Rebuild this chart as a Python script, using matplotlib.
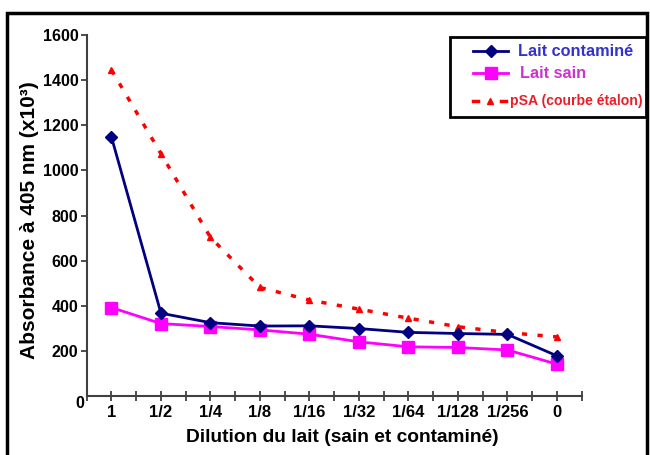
import matplotlib
matplotlib.use("Agg")
import matplotlib.pyplot as plt
from matplotlib.patches import Rectangle
from matplotlib.lines import Line2D

plt.rcParams['font.family'] = ['Liberation Sans', 'DejaVu Sans']
plt.rcParams['font.weight'] = 'bold'

categories = ["1", "1/2", "1/4", "1/8", "1/16", "1/32", "1/64", "1/128", "1/256", "0"]
lait_contamine = [1148, 367, 325, 310, 311, 299, 282, 277, 273, 178]
lait_sain = [392, 321, 308, 293, 274, 240, 218, 215, 204, 141]
psa = [1445, 1074, 703, 481, 425, 385, 345, 307, 281, 262]
y_ticks = [200, 400, 600, 800, 1000, 1200, 1400, 1600]
series_names = ['Lait contaminé', 'Lait sain', 'pSA (courbe étalon)']

W, H = 650, 455
fig = plt.figure(figsize=(6.5, 4.55), dpi=100)
fig.patch.set_facecolor('white')


def fx(px):
    return px / W


def fy(py):
    return 1 - py / H


# outer black frame
fig.patches.append(Rectangle((fx(7), -0.02), 640 / W, fy(13) + 0.02,
                             transform=fig.transFigure, fill=False,
                             edgecolor='black', linewidth=2.5))

ax = fig.add_axes([fx(86.7), fy(396), 495 / W, (396 - 35) / H])
x = [i + 0.5 for i in range(len(categories))]

blue_style = dict(color='#000080', linewidth=2, marker='D', markersize=6)
pink_style = dict(color='#FF00FF', linewidth=2, marker='s', markersize=8)
red_style = dict(color='#FF0000', linewidth=2.5, linestyle=(0, (1.5, 3)),
                 marker='^', markersize=5)

ax.plot(x, lait_contamine, zorder=4, **blue_style)
ax.plot(x, lait_sain, zorder=3, **pink_style)
ax.plot(x, psa, zorder=2, **red_style)

ax.set_xlim(0, 10)
ax.set_ylim(0, 1600)
ax.set_xticks(x)
ax.set_xticklabels(categories)
ax.set_xticks(range(0, 11), minor=True)
ax.set_yticks(y_ticks)
ax.set_yticklabels([str(v) for v in y_ticks])

for s in ['top', 'right']:
    ax.spines[s].set_visible(False)
for s in ['left', 'bottom']:
    ax.spines[s].set_color('#404040')
    ax.spines[s].set_linewidth(1.5)

ax.tick_params(axis='x', which='both', direction='inout', length=7,
               width=1.3, color='#404040', labelsize=12, pad=3)
ax.tick_params(axis='y', direction='out', length=4, width=1.3,
               color='#404040', labelsize=11.5, pad=2)
for t in ax.get_xticklabels() + ax.get_yticklabels():
    t.set_fontweight('bold')

ax.set_xlabel('Dilution du lait (sain et contaminé)', fontsize=13.8,
              fontweight='bold')
ax.xaxis.set_label_coords(0.516, -0.092)
ax.set_ylabel('Absorbance à 405 nm (x10³)', fontsize=15, fontweight='bold')
ax.yaxis.set_label_coords(-0.097, 0.4875)

fig.text(fx(80), fy(404), '0', ha='center', va='center',
         fontsize=11.5, fontweight='bold')

# legend drawn by hand to match the reference box
fig.patches.append(Rectangle((fx(450), fy(117)), 196 / W, 80 / H,
                             transform=fig.transFigure, fill=True,
                             facecolor='white', edgecolor='black',
                             linewidth=2, zorder=5))
rows_y = [51, 73, 101]
styles = [blue_style, pink_style, None]
text_colors = ['#3333CC', '#CC33CC', '#E8202A']
text_x = [518, 520, 510]
text_sizes = [11.7, 11.7, 10.1]
for i, (ry, st) in enumerate(zip(rows_y, styles)):
    if st is not None:
        fig.add_artist(Line2D([fx(473), fx(508)], [fy(ry), fy(ry)],
                              transform=fig.transFigure,
                              color=st['color'], linewidth=st['linewidth'],
                              zorder=6))
        fig.add_artist(Line2D([fx(491)], [fy(ry)], transform=fig.transFigure,
                              color=st['color'], marker=st['marker'],
                              markersize=st['markersize'], linestyle='none',
                              zorder=6))
    else:
        for a, b in [(473, 478), (501, 506)]:
            fig.add_artist(Line2D([fx(a), fx(b)], [fy(ry), fy(ry)],
                                  transform=fig.transFigure,
                                  color='#FF0000', linewidth=2.5, zorder=6))
        fig.add_artist(Line2D([fx(490)], [fy(ry)], transform=fig.transFigure,
                              color='#FF0000', marker='^', markersize=5,
                              linestyle='none', zorder=6))
    fig.text(fx(text_x[i]), fy(ry), series_names[i], ha='left', va='center',
             color=text_colors[i], fontsize=text_sizes[i], fontweight='bold',
             zorder=7)

fig.savefig('out.png', dpi=100)
